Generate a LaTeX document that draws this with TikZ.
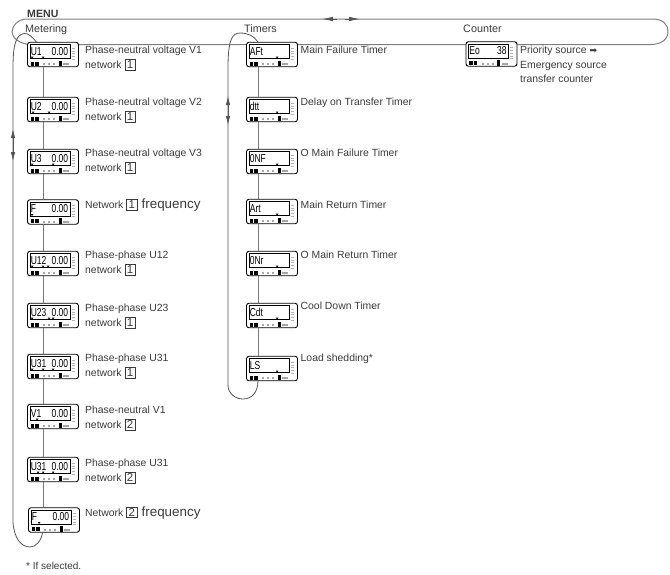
\documentclass[tikz,border=0pt]{standalone}
\usepackage{fontspec}
\usepackage{graphicx}
\setmainfont{Liberation Sans}
\usetikzlibrary{arrows.meta}
\definecolor{ink}{HTML}{3A3A3A}
\definecolor{wire}{HTML}{7A7A7A}
\definecolor{loopc}{HTML}{555555}
\newcommand{\boxnum}[1]{\tikz[baseline=(n.base)]\node[draw=ink,line width=.5pt,inner sep=0pt,minimum width=10.5pt,minimum height=10.5pt,font=\fontsize{11.5}{11.5}\selectfont,text=ink] (n) {#1};}
\newcommand{\lcdtext}[1]{\scalebox{.85}[1.15]{#1}}
\tikzset{
  x=1pt,y=-1pt,
  device/.style={draw=black,line width=.9pt,rounded corners=2.5pt,fill=white,minimum width=51pt,minimum height=24.5pt,inner sep=0pt},
  screen/.style={draw=black,line width=.7pt,minimum width=40pt,minimum height=14pt,inner sep=0pt,fill=white},
  lcd/.style={inner sep=0pt,font=\fontsize{10}{10}\selectfont,text=black,anchor=west},
  lcdval/.style={inner sep=0pt,font=\fontsize{10}{10}\selectfont,text=black,anchor=east},
  desc/.style={inner sep=0pt,anchor=north west,align=left,text=ink,font=\fontsize{10.4}{15}\selectfont},
  desclone/.style={inner sep=0pt,anchor=west,text=ink,font=\fontsize{10.4}{15}\selectfont},
  head/.style={inner sep=0pt,anchor=base west,text=ink,font=\fontsize{10.8}{12}\selectfont},
  wirel/.style={draw=wire,line width=.8pt},
  loopl/.style={draw=loopc,line width=.8pt},
  menul/.style={draw=gray,line width=1pt},
  tipl/.style={draw=loopc,line width=.8pt,-{Latex[length=9pt,width=4.5pt]}},
}
% device: name, centre x, centre y, left text, right text, marker offsets
\newcommand{\dev}[6]{%
  \node[device] (#1) at (#2,#3) {};
  \node[screen] (#1s) at ([xshift=-3pt,yshift=3pt]#1.center) {};
  \node[lcd] (#1t) at ([xshift=1pt]#1s.west) {\lcdtext{#4}};
  \node[lcdval] (#1v) at ([xshift=-2pt]#1s.east) {\lcdtext{#5}};
  \fill[black] ([xshift=3.5pt,yshift=1.6pt]#1.south west) rectangle +(3.8,-4);
  \fill[black] ([xshift=8pt,yshift=1.6pt]#1.south west) rectangle +(3.8,-4);
  \fill[black] ([xshift=31.5pt,yshift=1pt]#1.south west) rectangle +(3.2,-5.5);
  \fill[gray!70] ([xshift=16pt,yshift=2.2pt]#1.south west) rectangle +(2.4,-1.8);
  \fill[gray!70] ([xshift=21pt,yshift=2.2pt]#1.south west) rectangle +(2.4,-1.8);
  \fill[gray!70] ([xshift=26pt,yshift=2.2pt]#1.south west) rectangle +(2.4,-1.8);
  \fill[gray!70] ([xshift=36pt,yshift=2.2pt]#1.south west) rectangle +(6,-1.8);
  \foreach \k in {0,...,4}{\draw[gray!60,line width=.6pt] ([xshift=44.5pt,yshift=8pt+2.8pt*\k]#1.south west) -- +(3,0);}
  \foreach \m in {#6}{\fill[black] ([xshift=\m pt-1.3pt,yshift=10.5pt]#1.south west) -- ++(2.6,0) -- ++(-1.3,1.8) -- cycle;}
}
\begin{document}
\begin{tikzpicture}
\useasboundingbox (0,0) rectangle (670,574);
% main menu loop
\coordinate (mTL) at (27,19);
\coordinate (mTR) at (652,19);
\coordinate (mBR) at (651,44.5);
\coordinate (mBL) at (30,44.5);
\coordinate (mA) at (322,19);
\coordinate (mB) at (360,19);
\draw[menul] (mTL) -- (mTR) .. controls (663,19) and (668,24) .. (668,32) .. controls (668,40) and (660,44.5) .. (mBR) -- (mBL) .. controls (20,44) and (12,38) .. (12,32) .. controls (12,26) and (18,19) .. (mTL);
\draw[tipl,-{Latex[length=11pt,width=4.5pt]}] (337,19) -- (mA);
\draw[tipl,-{Latex[length=11pt,width=4.5pt]}] (345,19) -- (mB);
% sub-loops
\coordinate (lA) at (13,68);
\coordinate (lT1) at (37,43);
\coordinate (lB1) at (42.5,533);
\coordinate (lU) at (13,129);
\coordinate (lD) at (13,161);
\coordinate (tA) at (228,68);
\coordinate (tT1) at (258,42);
\coordinate (tB1) at (258,381);
\coordinate (tU) at (228,96);
\coordinate (tD) at (228,125);

\draw[loopl] (lT1) .. controls (33,37) and (28,33) .. (24,33.5) .. controls (16,35) and (13,44) .. (lA) -- (13,522) .. controls (14,538) and (21,547) .. (30,547) .. controls (36,547) and (41,541) .. (lB1);
\draw[loopl] (tT1) .. controls (254,36) and (248,33) .. (240,33) .. controls (232,33) and (228,40) .. (tA) -- (228,385) .. controls (228,394) and (236,399) .. (243,399) .. controls (252,399) and (258,392) .. (tB1);
\draw[tipl] (13,145) -- (lU);
\draw[tipl] (13,145) -- (lD);
\draw[tipl] (228,110) -- (tU);
\draw[tipl] (228,110) -- (tD);

% metering
\dev{a1}{53}{54.5}{U1}{0.00}{5,16}
\dev{a2}{53}{109.5}{U2}{0.00}{6,22}
\dev{a3}{53}{161.5}{U3}{0.00}{5,26}
\dev{a4}{53}{212}{F}{0.00}{5}
\dev{a5}{53}{263.5}{U12}{0.00}{5,16,21}
\dev{a6}{53}{315.5}{U23}{0.00}{5,22,26}
\dev{a7}{53}{366.5}{U31}{0.00}{5,16,26}
\dev{a8}{53}{416.5}{V1}{0.00}{10}
\dev{a9}{53}{469.5}{U31}{0.00}{11,16,26}
\dev{a10}{54}{520}{F}{0.00}{11}
\foreach \p/\q in {a1/a2,a2/a3,a3/a4,a4/a5,a5/a6,a6/a7,a7/a8,a8/a9}{\draw[wirel] ([xshift=-10pt]\p.south) -- ([xshift=-10pt]\q.north);}
\draw[wirel] ([xshift=-10pt]a9.south) -- ([xshift=-11pt]a10.north);
% timers
\dev{b1}{272}{54.5}{AFt}{}{31}
\dev{b2}{272}{109.5}{dtt}{}{31}
\dev{b3}{272}{161.5}{0NF}{}{31}
\dev{b4}{272}{211.5}{Art}{}{31}
\dev{b5}{272}{263.5}{0Nr}{}{31}
\dev{b6}{272}{315.5}{Cdt}{}{31}
\dev{b7}{272}{368.5}{LS}{}{31}
\foreach \p/\q in {b1/b2,b2/b3,b3/b4,b4/b5,b5/b6,b6/b7}{\draw[wirel] ([xshift=-14pt]\p.south) -- ([xshift=-14pt]\q.north);}
% counter
\dev{c1}{491.5}{54}{Eo}{38}{}

% headings
\node[inner sep=0pt,anchor=base west,text=ink,font=\fontsize{10.6}{12}\bfseries\selectfont] (hm) at (27,17) {MENU};
\node[head] (h1) at (25,32) {Metering};
\node[head] (h2) at (244,32) {Timers};
\node[head] (h3) at (463,32) {Counter};
% descriptions
\node[desc] (d1) at (85,46) {Phase-neutral voltage V1\\network \boxnum{1}};
\node[desc] (d2) at (85,98) {Phase-neutral voltage V2\\network \boxnum{1}};
\node[desc] (d3) at (85,149) {Phase-neutral voltage V3\\network \boxnum{1}};
\node[desclone] (d4) at (85,205) {Network \boxnum{1}\hspace{1.5pt} {\fontsize{13.4}{14}\selectfont frequency}};
\node[desc] (d5) at (85,251) {Phase-phase U12\\network \boxnum{1}};
\node[desc] (d6) at (85,304) {Phase-phase U23\\network \boxnum{1}};
\node[desc] (d7) at (85,354) {Phase-phase U31\\network \boxnum{1}};
\node[desc] (d8) at (85,406) {Phase-neutral V1\\network \boxnum{2}};
\node[desc] (d9) at (85,459) {Phase-phase U31\\network \boxnum{2}};
\node[desclone] (d10) at (85,513) {Network \boxnum{2}\hspace{1.5pt} {\fontsize{13.4}{14}\selectfont frequency}};
\node[desc] (e1) at (300.5,46) {Main Failure Timer};
\node[desc] (e2) at (300.5,98) {Delay on Transfer Timer};
\node[desc] (e3) at (300.5,149) {O Main Failure Timer};
\node[desc] (e4) at (300.5,201) {Main Return Timer};
\node[desc] (e5) at (300.5,251) {O Main Return Timer};
\node[desc] (e6) at (300.5,302) {Cool Down Timer};
\node[desc] (e7) at (300.5,354) {Load shedding*};
\node[desc,font=\fontsize{10.4}{14.3}\selectfont] (f1) at (520,46) {Priority source \raisebox{.5pt}{\fontspec{DejaVu Sans}\fontsize{9}{9}\selectfont ➡}\\Emergency source\\transfer counter};
\node[inner sep=0pt,anchor=base west,text=ink,font=\fontsize{10}{11}\selectfont] (fn) at (26,569) {* If selected.};
\end{tikzpicture}
\end{document}
